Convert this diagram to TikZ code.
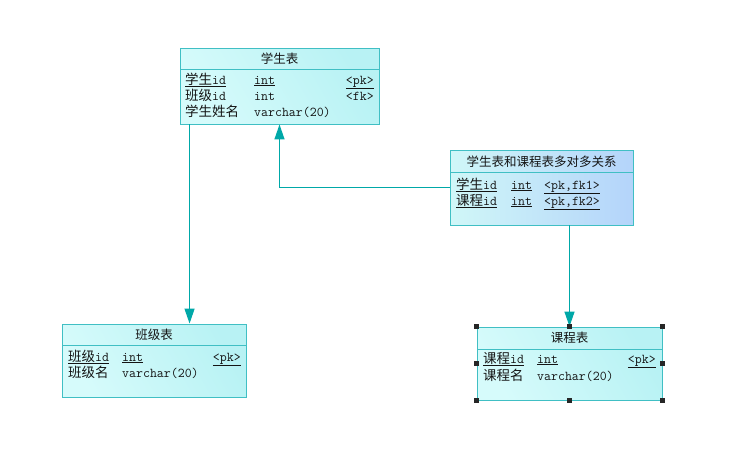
\documentclass[tikz,border=0pt]{standalone}
\usepackage{fontspec}
\newfontfamily\cjk{Noto Sans CJK SC}
\usetikzlibrary{arrows.meta,calc}
\definecolor{tabedge}{HTML}{40BFC4}
\definecolor{conncol}{HTML}{00A8A8}
\definecolor{fillA}{HTML}{D6FBFB}
\definecolor{fillB}{HTML}{B8F2F4}
\definecolor{relA}{HTML}{D0F7F8}
\definecolor{relB}{HTML}{B4D4FA}
\definecolor{txt}{HTML}{141414}
\newcommand{\zh}[1]{{\cjk #1}}
\begin{document}
\begin{tikzpicture}[x=1pt,y=-1pt,
  tbl/.style={draw=tabedge,line width=0.9pt,left color=fillA,right color=fillB,shading angle=120,inner sep=0pt,rectangle},
  reltbl/.style={tbl,left color=relA,right color=relB},
  sep/.style={draw=tabedge,line width=0.9pt},
  ttl/.style={anchor=base,text=txt,inner sep=0pt,font=\fontsize{12.5}{14}\selectfont},
  cell/.style={anchor=base west,text=txt,inner sep=0pt,font=\fontsize{13.5}{14}\selectfont\ttfamily},
  rcell/.style={cell,anchor=base east},
  conn/.style={draw=conncol,line width=1.3pt,-{Triangle[length=15pt,width=10pt,fill=conncol]}},
  handle/.style={fill=black!85}
]
\useasboundingbox (0,0) rectangle (756,459);
\fill[white] (0,0) rectangle (756,459);

% student table
\node[tbl,minimum width=199pt,minimum height=76pt] (stu) at (279.5,86) {};
\draw[sep] (180,69) -- (379,69);
\node[ttl] (stuT) at (279.5,63) {\zh{学生表}};
\node[cell] (s1) at (185,84) {\underline{\zh{学生}id}};
\node[cell] (s2) at (254,84) {\underline{int}};
\node[rcell] (s3) at (374,84) {\underline{<pk>}};
\node[cell] (s4) at (185,100) {\zh{班级}id};
\node[cell] (s5) at (254,100) {int};
\node[rcell] (s6) at (374,100) {<fk>};
\node[cell] (s7) at (185,116) {\zh{学生姓名}};
\node[cell] (s8) at (254,116) {varchar(20)};

% relation table
\node[reltbl,minimum width=183pt,minimum height=75pt] (rel) at (541.5,187.5) {};
\draw[sep] (450,172) -- (633,172);
\node[ttl] (relT) at (541.5,166) {\zh{学生表和课程表多对多关系}};
\node[cell] (r1) at (456,189) {\underline{\zh{学生}id}};
\node[cell] (r2) at (511,189) {\underline{int}};
\node[cell] (r3) at (544,189) {\underline{<pk,fk1>}};
\node[cell] (r4) at (456,205) {\underline{\zh{课程}id}};
\node[cell] (r5) at (511,205) {\underline{int}};
\node[cell] (r6) at (544,205) {\underline{<pk,fk2>}};

% class table
\node[tbl,minimum width=184pt,minimum height=73pt] (cls) at (154,360.5) {};
\draw[sep] (62,345) -- (246,345);
\node[ttl] (clsT) at (154,339) {\zh{班级表}};
\node[cell] (c1) at (68,361) {\underline{\zh{班级}id}};
\node[cell] (c2) at (122,361) {\underline{int}};
\node[rcell] (c3) at (241,361) {\underline{<pk>}};
\node[cell] (c4) at (68,377) {\zh{班级名}};
\node[cell] (c5) at (122,377) {varchar(20)};

% course table
\node[tbl,minimum width=185pt,minimum height=73pt] (crs) at (569.5,363.5) {};
\draw[sep] (477,349) -- (662,349);
\node[ttl] (crsT) at (569.5,342) {\zh{课程表}};
\node[cell] (k1) at (483,363) {\underline{\zh{课程}id}};
\node[cell] (k2) at (537,363) {\underline{int}};
\node[rcell] (k3) at (656,363) {\underline{<pk>}};
\node[cell] (k4) at (483,380) {\zh{课程名}};
\node[cell] (k5) at (537,380) {varchar(20)};

% connectors
\coordinate (stuOut) at ($(stu.south west)+(10,0)$);
\draw[conn] (stuOut) -- (stuOut |- cls.north);
\draw[conn] (rel.west) -| (stu.south);
\draw[conn] (rel.south -| crs.north) -- (crs.north);

% selection handles
\foreach \a in {north west,north,north east,west,east,south west,south,south east}{
  \fill[handle] ($(crs.\a)+(-2.5,-2.5)$) rectangle ++(5,5);
}
\end{tikzpicture}
\end{document}
